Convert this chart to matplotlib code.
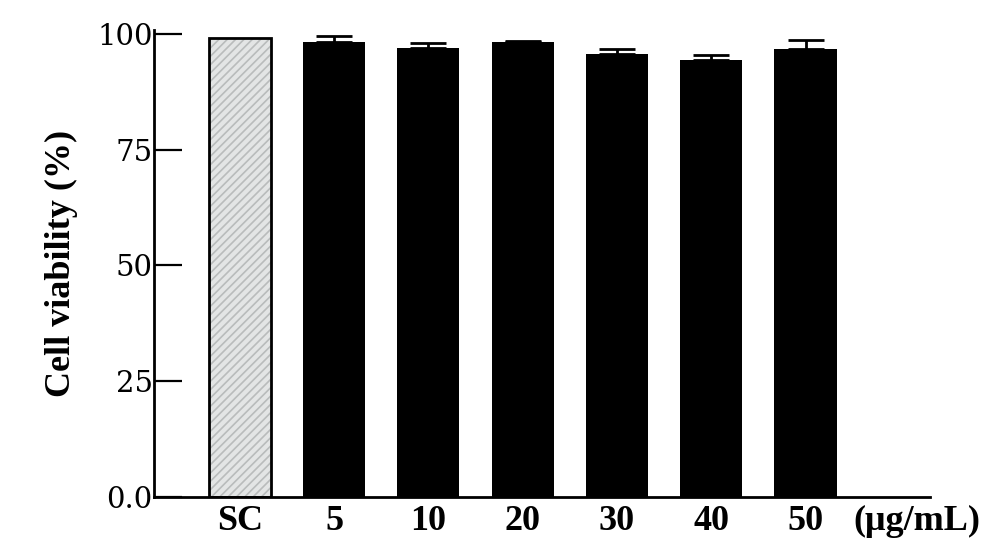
import numpy as np
import matplotlib.pyplot as plt

# Data
groups = ['SC', '5', '10', '20', '30', '40', '50']
viability = [99.1, 98.3, 97.0, 98.3, 95.7, 94.4, 96.8]
errors = [0.0, 1.3, 0.9, 0.2, 1.1, 1.1, 1.9]
yticks = [0, 25, 50, 75, 100]
yticklabels = ['0.0', '25', '50', '75', '100']
unit_label = '(μg/mL)'

plt.rcParams['hatch.linewidth'] = 1.2

fig = plt.figure(figsize=(10, 5.55), dpi=100)
ax = fig.add_axes([0.154, 0.1045, 0.776, 0.8415])

x = np.arange(len(groups))
width = 0.66

# control bar: light grey with diagonal hatching
ax.bar(x[0], viability[0], width, color='#e3e5e5', edgecolor='#b9bcbc',
       hatch='////', linewidth=0, zorder=2)
ax.bar(x[0], viability[0], width, color='none', edgecolor='black',
       linewidth=2, zorder=3)

# treated bars with upper error bars
lower = np.zeros(len(groups) - 1)
ax.bar(x[1:], viability[1:], width, color='black', zorder=2,
       yerr=[lower, errors[1:]], capsize=13,
       error_kw=dict(elinewidth=2, capthick=2, ecolor='black', zorder=1))

ax.set_xlim(-0.91, 7.32)
ax.set_ylim(0, 100.8)

ax.spines['top'].set_visible(False)
ax.spines['right'].set_visible(False)
ax.spines['left'].set_linewidth(2)
ax.spines['bottom'].set_linewidth(2)

ax.set_yticks(yticks)
ax.set_yticklabels(yticklabels, family='DejaVu Serif', fontsize=21)
ax.tick_params(axis='y', direction='in', length=20, width=1.6, pad=1)

label_font = dict(family='Liberation Serif', fontweight='bold', fontsize=26)
ax.set_xticks(x)
ax.set_xticklabels(groups, **label_font)
ax.tick_params(axis='x', length=0, pad=6)

ax.annotate(unit_label, xy=(7.18, 0), xycoords=('data', 'axes fraction'),
            xytext=(0, -6), textcoords='offset points',
            ha='center', va='top', **label_font)

ax.set_ylabel('Cell viability (%)', family='Liberation Serif',
              fontweight='bold', fontsize=26, labelpad=14)

fig.savefig('out.png', dpi=100)
